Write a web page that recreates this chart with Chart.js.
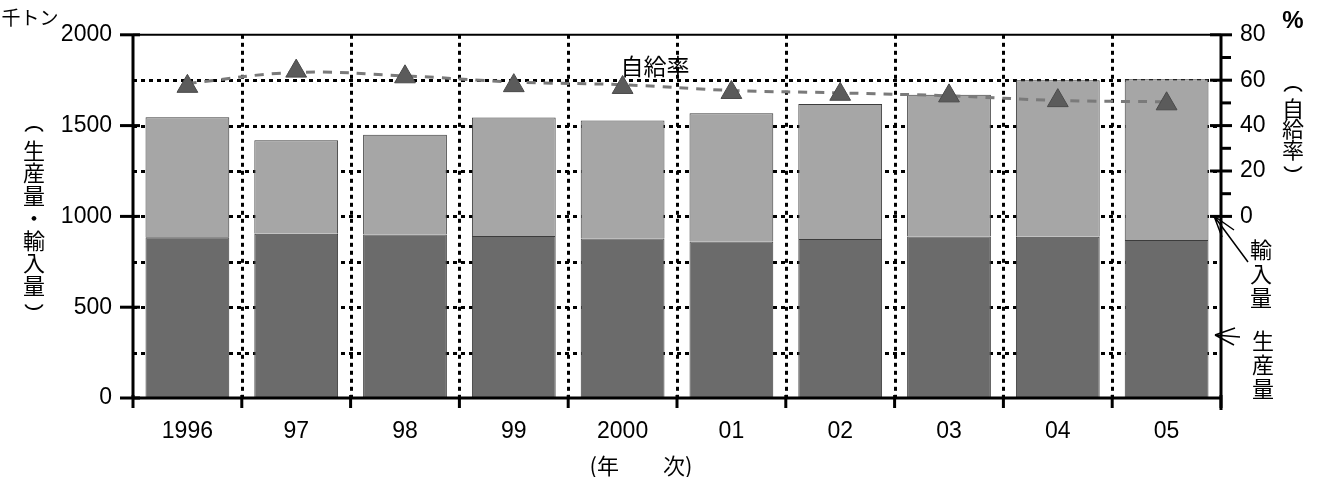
<!DOCTYPE html>
<html><head><meta charset="utf-8">
<script src="https://cdn.jsdelivr.net/npm/chart.js@4.4.0/dist/chart.umd.min.js"></script>
<style>html,body{margin:0;padding:0;background:#fff}</style>
</head><body>
<canvas id="c" width="1320" height="477" style="width:1320px;height:477px;display:block"></canvas>
<script>
const years = ['1996','97','98','99','2000','01','02','03','04','05'];
const production = [885, 905, 900, 892, 878, 862, 875, 890, 888, 870];
const imports = [661, 514, 549, 653, 650, 706, 744, 780, 862, 885];
const selfRate = [57.3, 64, 61.5, 57.6, 56.8, 54.6, 53.8, 53.1, 51, 49.6];
const selfRateTrend = [58.6, 63.4, 61.9, 59.2, 58.0, 55.5, 54.4, 53.1, 51.1, 50.5];
const leftTicks = [0, 500, 1000, 1500, 2000];
const rightTicks = [0, 20, 40, 60, 80];
const gridValues = [250, 500, 750, 1000, 1250, 1500, 1750];

const NUMFONT = '"Liberation Sans", Arial, sans-serif';
const JPFONT = '"Noto Sans CJK JP", sans-serif';

const deco = {
  id: 'deco',
  beforeDatasetsDraw(chart) {
    const {ctx, chartArea: a, scales} = chart;
    const y = scales.y, x = scales.x;
    ctx.save();
    ctx.strokeStyle = '#000';
    ctx.lineWidth = 3;
    ctx.setLineDash([4, 4]);
    gridValues.forEach(v => {
      const py = Math.round(y.getPixelForValue(v)) + 0.5;
      ctx.beginPath(); ctx.moveTo(a.left, py); ctx.lineTo(a.right, py); ctx.stroke();
    });
    for (let i = 0; i < years.length - 1; i++) {
      const px = Math.round((x.getPixelForValue(i) + x.getPixelForValue(i + 1)) / 2) + 0.5;
      ctx.beginPath(); ctx.moveTo(px, a.top); ctx.lineTo(px, a.bottom); ctx.stroke();
    }
    ctx.restore();
  },
  afterDatasetsDraw(chart) {
    const {ctx, chartArea: a, scales} = chart;
    const y = scales.y, y2 = scales.y2, x = scales.x;
    ctx.save();
    ctx.strokeStyle = '#000';
    ctx.setLineDash([]);
    ctx.lineWidth = 2;
    ctx.beginPath(); ctx.moveTo(a.left, a.top); ctx.lineTo(a.right, a.top); ctx.stroke();
    ctx.lineWidth = 3;
    ctx.beginPath(); ctx.moveTo(a.left, a.top); ctx.lineTo(a.left, a.bottom + 1); ctx.stroke();
    ctx.beginPath(); ctx.moveTo(a.right, a.top); ctx.lineTo(a.right, a.bottom + 12); ctx.stroke();
    ctx.beginPath(); ctx.moveTo(a.left, a.bottom); ctx.lineTo(a.right, a.bottom); ctx.stroke();
    leftTicks.forEach(v => {
      const py = y.getPixelForValue(v);
      ctx.beginPath(); ctx.moveTo(a.left - 13, py); ctx.lineTo(a.left + 7, py); ctx.stroke();
    });
    rightTicks.forEach(v => {
      const py = y2.getPixelForValue(v);
      ctx.beginPath(); ctx.moveTo(a.right - 11, py); ctx.lineTo(a.right + 11, py); ctx.stroke();
    });
    [10, 30, 50, 70].forEach(v => {
      const py = y2.getPixelForValue(v);
      ctx.beginPath(); ctx.moveTo(a.right, py); ctx.lineTo(a.right + 10, py); ctx.stroke();
    });
    const half = (x.getPixelForValue(1) - x.getPixelForValue(0)) / 2;
    for (let i = 0; i <= years.length; i++) {
      const px = x.getPixelForValue(0) - half + i * half * 2;
      ctx.beginPath(); ctx.moveTo(px, a.bottom - 3); ctx.lineTo(px, a.bottom + 10); ctx.stroke();
    }
    ctx.restore();
  },
  afterDraw(chart) {
    const {ctx} = chart;
    ctx.save();
    ctx.fillStyle = '#000';
    ctx.strokeStyle = '#000';
    ctx.textAlign = 'center';
    ctx.textBaseline = 'middle';
    const paren = (open, cx, cy) => {
      ctx.save();
      ctx.lineWidth = 1.8;
      ctx.beginPath();
      if (open) ctx.ellipse(cx, cy + 5, 9, 6, 0, Math.PI * 1.08, Math.PI * 1.92);
      else ctx.ellipse(cx, cy - 5, 9, 6, 0, Math.PI * 0.08, Math.PI * 0.92);
      ctx.stroke();
      ctx.restore();
    };
    const vtext = (chars, cx, startY, step, size) => {
      chars.forEach((ch, i) => {
        const cy = startY + i * step;
        if (ch === '(' || ch === ')') {
          paren(ch === '(', cx, cy);
        } else {
          ctx.font = size + 'px ' + JPFONT;
          ctx.fillText(ch, cx, cy);
        }
      });
    };
    ctx.font = '19px ' + JPFONT;
    ctx.fillText('千トン', 30, 18);
    ctx.font = 'bold 24px ' + NUMFONT;
    ctx.fillText('%', 1293, 21);
    vtext(['(','生','産','量','・','輸','入','量',')'], 34, 128, 22.5, 22);
    vtext(['(','自','給','率',')'], 1293, 88, 20.5, 22);
    vtext(['輸','入','量'], 1261, 250, 24, 22);
    vtext(['生','産','量'], 1263, 341, 24, 22);
    ctx.font = '23px ' + JPFONT;
    ctx.fillText('自給率', 655, 66);
    ctx.font = '22px ' + JPFONT;
    ctx.fillText('(年　　次)', 641, 466);
    ctx.lineWidth = 1.5;
    ctx.beginPath();
    ctx.moveTo(1248, 262); ctx.lineTo(1214, 216);
    ctx.moveTo(1214, 216); ctx.lineTo(1234, 230);
    ctx.moveTo(1214, 216); ctx.lineTo(1222, 237);
    ctx.moveTo(1240, 337); ctx.lineTo(1215, 335);
    ctx.moveTo(1215, 335); ctx.lineTo(1235, 328);
    ctx.moveTo(1215, 335); ctx.lineTo(1234, 345);
    ctx.stroke();
    ctx.restore();
  }
};

new Chart(document.getElementById('c'), {
  data: {
    labels: years,
    datasets: [
      {type: 'line', label: 'trend', data: selfRateTrend, yAxisID: 'y2', borderColor: '#7a7a7a',
       borderWidth: 3, borderDash: [9, 8], pointRadius: 0, tension: 0.4, fill: false, order: 2},
      {type: 'line', label: '自給率', data: selfRate, yAxisID: 'y2', showLine: false,
       pointStyle: 'triangle', pointRadius: 12, pointHoverRadius: 12,
       backgroundColor: '#5b5b5b', borderColor: '#4a4a4a', borderWidth: 1, order: 1},
      {type: 'bar', label: '生産量', data: production, yAxisID: 'y', stack: 's',
       backgroundColor: '#6b6b6b', borderColor: '#3c3c3c', borderWidth: 1,
       categoryPercentage: 1, barPercentage: 0.77, order: 3},
      {type: 'bar', label: '輸入量', data: imports, yAxisID: 'y', stack: 's',
       backgroundColor: '#a6a6a6', borderColor: '#3c3c3c', borderWidth: 1,
       categoryPercentage: 1, barPercentage: 0.77, order: 3}
    ]
  },
  options: {
    responsive: false,
    devicePixelRatio: 1,
    animation: false,
    events: [],
    layout: {padding: {top: 32, left: 0, right: 0, bottom: 0}},
    plugins: {legend: {display: false}, tooltip: {enabled: false}},
    scales: {
      x: {
        stacked: true, offset: true,
        grid: {display: false, drawTicks: false}, border: {display: false},
        ticks: {color: '#000', font: {family: NUMFONT, size: 23}, padding: 20, maxRotation: 0, autoSkip: false},
        afterFit: s => { s.height = 79; }
      },
      y: {
        stacked: true, position: 'left', min: 0, max: 2000,
        grid: {display: false, drawTicks: false}, border: {display: false},
        ticks: {stepSize: 500, color: '#000', font: {family: NUMFONT, size: 23}, padding: 21,
                callback: v => String(v)},
        afterFit: s => { s.width = 133; }
      },
      y2: {
        position: 'right', min: -80, max: 80,
        grid: {display: false, drawTicks: false}, border: {display: false},
        ticks: {stepSize: 20, color: '#000', font: {family: NUMFONT, size: 23}, padding: 19,
                callback: v => (v >= 0 ? String(v) : null)},
        afterFit: s => { s.width = 99; }
      }
    }
  },
  plugins: [deco]
});
</script>
</body></html>
